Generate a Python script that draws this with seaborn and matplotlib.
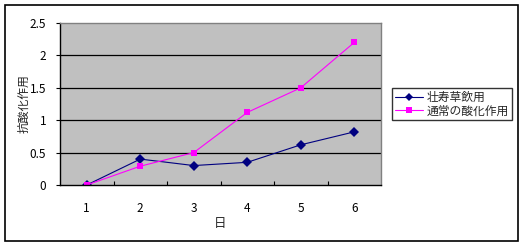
import matplotlib
matplotlib.use("Agg")
import matplotlib.pyplot as plt
import seaborn as sns
import pandas as pd
from matplotlib.patches import Rectangle
from matplotlib.lines import Line2D

days = [1, 2, 3, 4, 5, 6]
series_a_name = "壮寿草飲用"
series_a = [0.0, 0.40, 0.30, 0.35, 0.62, 0.82]
series_b_name = "通常の酸化作用"
series_b = [0.0, 0.29, 0.50, 1.12, 1.50, 2.20]
yticks = [0, 0.5, 1, 1.5, 2, 2.5]
ytick_labels = ["0", "0.5", "1", "1.5", "2", "2.5"]

sns.set_theme(style="white")
plt.rcParams['font.family'] = ['Noto Sans CJK JP', 'DejaVu Sans']

df = pd.DataFrame({
    "day": days * 2,
    "value": series_a + series_b,
    "series": [series_a_name] * 6 + [series_b_name] * 6,
})

fig = plt.figure(figsize=(5.25, 2.46), dpi=100)
fig.patch.set_facecolor("white")
fig.patches.append(Rectangle((5/525, 5/246), 513/525, 236/246, transform=fig.transFigure,
                             fill=False, edgecolor="black", linewidth=1.2))

ax = fig.add_axes([60/525, (246-185)/246, 321/525, 162/246])
ax.set_facecolor("#C0C0C0")

palette = {series_a_name: "#000080", series_b_name: "#FF00FF"}
markers = {series_a_name: "D", series_b_name: "s"}
sns.lineplot(data=df, x="day", y="value", hue="series", style="series",
             palette=palette, markers=markers, dashes=False, ax=ax,
             linewidth=0.8, markersize=5, markeredgewidth=0, legend=False)

ax.set_xlim(0.5, 6.5)
ax.set_ylim(0, 2.5)
ax.set_yticks(yticks)
ax.set_yticklabels(ytick_labels)
ax.set_xticks(days)
ax.set_xticklabels([str(d) for d in days])
ax.set_xticks([1.5, 2.5, 3.5, 4.5, 5.5], minor=True)
for y in yticks[1:-1]:
    ax.axhline(y, color="black", linewidth=0.9, zorder=1)

for s in ["top", "right"]:
    ax.spines[s].set_color("#808080")
    ax.spines[s].set_linewidth(1)
for s in ["left", "bottom"]:
    ax.spines[s].set_color("black")
    ax.spines[s].set_linewidth(1)

ax.tick_params(axis="y", which="major", left=True, length=3, width=0.8, direction="out",
               labelsize=8.5, pad=7, colors="black")
ax.tick_params(axis="x", which="major", bottom=False, labelsize=8.5, pad=6, colors="black")
ax.tick_params(axis="x", which="minor", bottom=True, length=3, width=0.8, direction="in", color="black")

ax.set_xlabel("日", fontsize=9, labelpad=2)
ax.set_ylabel("抗酸化作用", fontsize=8.5)
ax.yaxis.set_label_coords(-0.093, 0.5)

handles = [Line2D([], [], color="#000080", marker="D", markersize=4, linewidth=0.8, markeredgewidth=0),
           Line2D([], [], color="#FF00FF", marker="s", markersize=4, linewidth=0.8, markeredgewidth=0)]
leg = fig.legend(handles, [series_a_name, series_b_name], loc="upper left",
                 bbox_to_anchor=(392/525, 1 - 88/246), fontsize=8.5, frameon=True,
                 fancybox=False, edgecolor="black", borderpad=0.25, labelspacing=0.05,
                 handlelength=2.4, handletextpad=0.3, borderaxespad=0)
leg.get_frame().set_linewidth(1)

fig.savefig("out.png", dpi=100)
